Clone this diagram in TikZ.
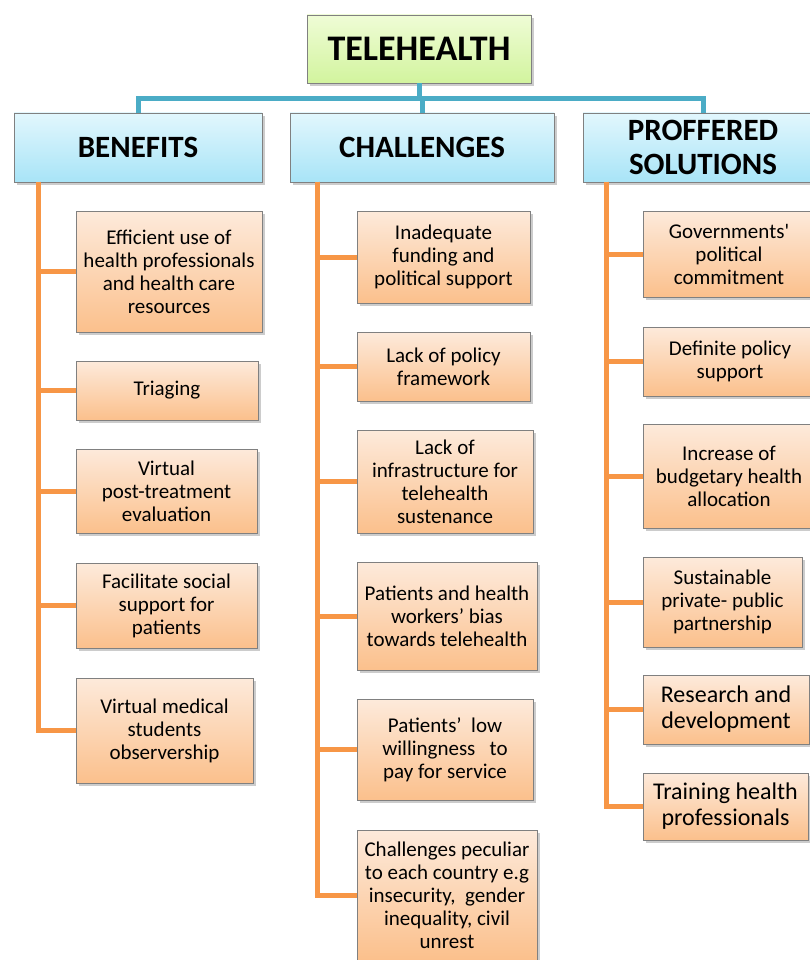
\documentclass[tikz,border=0pt]{standalone}
\usepackage{fontspec}
\newfontfamily\boxfont{Carlito}
\usepackage{tikz}
\usetikzlibrary{shadows}
\usepackage{xcolor}

\definecolor{hubblue}{HTML}{4BACC6}
\definecolor{trunkorange}{HTML}{F79646}
\definecolor{greentop}{HTML}{EFFCD6}
\definecolor{greenbot}{HTML}{D2F49E}
\definecolor{headtop}{HTML}{E2F7FD}
\definecolor{headbot}{HTML}{A8E4F7}
\definecolor{itemtop}{HTML}{FDEADB}
\definecolor{itembot}{HTML}{FBC08C}

\begin{document}
\begin{tikzpicture}[
    x=1pt, y=-1pt,
    every node/.style={font=\boxfont\fontsize{21}{23}\selectfont, align=center, inner sep=2pt},
    dims/.style 2 args={minimum width=#1pt, minimum height=#2pt},
    box/.style={draw=black!50, line width=0.8pt,
      drop shadow={opacity=0.4, shadow xshift=3pt, shadow yshift=-3pt}},
    topbox/.style={box, top color=greentop, bottom color=greenbot, dims={224}{68},
      font=\boxfont\bfseries\fontsize{36}{40}\selectfont},
    headbox/.style={box, top color=headtop, bottom color=headbot, minimum height=69pt,
      font=\boxfont\bfseries\fontsize{31}{34}\selectfont},
    itembox/.style={box, top color=itemtop, bottom color=itembot},
    bigitem/.style={itembox, font=\boxfont\fontsize{24}{26}\selectfont},
    hubline/.style={draw=hubblue, line width=5pt},
    trunk/.style={draw=trunkorange, line width=5pt},
]
\useasboundingbox (0,0) rectangle (810,960);

% root and the three headings
\node[topbox] (tele) at (419,49) {TELEHEALTH};
\node[headbox, minimum width=248pt] (ben) at (138,147.5) {BENEFITS};
\node[headbox, minimum width=264pt] (cha) at (422,147.5) {CHALLENGES};
\node[headbox, minimum width=240pt] (sol) at (703,147.5) {PROFFERED\\SOLUTIONS};

\foreach \h in {ben,cha,sol}
  \draw[hubline] (tele.south) -- ++(0,15) -| (\h.north);

% benefits
\node[itembox, dims={186}{121}] (b1) at (169,271.5) {Efficient use of\\health professionals\\and health care\\resources};
\node[itembox, dims={182}{59}] (b2) at (167,390.5) {Triaging};
\node[itembox, dims={181}{84}] (b3) at (166.5,491) {Virtual\\post-treatment\\evaluation};
\node[itembox, dims={181}{85}] (b4) at (166.5,605.5) {Facilitate social\\support for\\patients};
\node[itembox, dims={177}{105}] (b5) at (164.5,730.5) {Virtual medical\\students\\observership};

% challenges
\node[itembox, dims={173}{92}] (c1) at (443.5,257) {Inadequate\\funding and\\political support};
\node[itembox, dims={173}{69}] (c2) at (443.5,366.5) {Lack of policy\\framework};
\node[itembox, dims={176}{103}] (c3) at (445,481.5) {Lack of\\infrastructure for\\telehealth\\sustenance};
\node[itembox, dims={180}{108}] (c4) at (447,616) {Patients and health\\workers’ bias\\towards telehealth};
\node[itembox, dims={176}{101}] (c5) at (445,749.5) {Patients’\ \ low\\willingness\ \ \ to\\pay for service};
\node[itembox, dims={180}{130}] (c6) at (447,895) {Challenges peculiar\\to each country e.g\\insecurity,\ \ gender\\inequality, civil\\unrest};

% solutions
\node[itembox, dims={172}{86}] (s1) at (729,254) {Governments'\\political\\commitment};
\node[itembox, dims={174}{69}] (s2) at (730,361.5) {Definite policy\\support};
\node[itembox, dims={172}{104}] (s3) at (729,476) {Increase of\\budgetary health\\allocation};
\node[itembox, dims={159}{90}] (s4) at (722.5,602) {Sustainable\\private- public\\partnership};
\node[bigitem, dims={166}{69}] (s5) at (726,709.5) {Research and\\development};
\node[bigitem, dims={165}{67}] (s6) at (725.5,806.5) {Training health\\professionals};

% orange trunks down each column
\coordinate (bentop) at (38,182);
\coordinate (chatop) at (317,182);
\coordinate (soltop) at (606,182);
\foreach \n in {b1,b2,b3,b4,b5}
  \draw[trunk] (bentop) |- (\n.west);
\foreach \n in {c1,c2,c3,c4,c5,c6}
  \draw[trunk] (chatop) |- (\n.west);
\foreach \n in {s1,s2,s3,s4,s5,s6}
  \draw[trunk] (soltop) |- (\n.west);
\end{tikzpicture}
\end{document}
